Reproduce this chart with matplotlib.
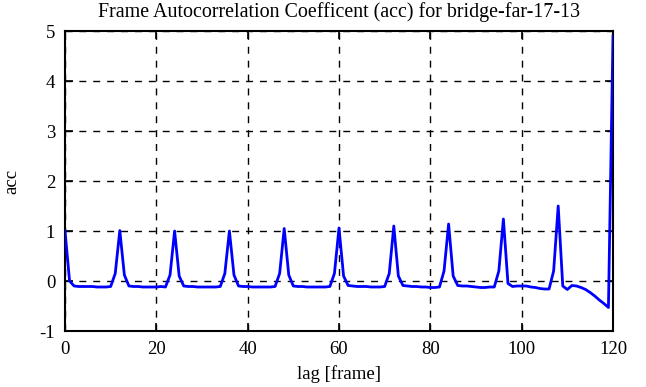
import matplotlib
matplotlib.use("Agg")
import matplotlib.pyplot as plt
import numpy as np

title = "Frame Autocorrelation Coefficent (acc) for bridge-far-17-13"
xlabel = "lag [frame]"
ylabel = "acc"
xticks = [0, 20, 40, 60, 80, 100, 120]
yticks = [-1, 0, 1, 2, 3, 4, 5]

lags = list(range(0, 121))
acc = [
    1.00, 0.00, -0.10, -0.11, -0.11, -0.11, -0.11, -0.12, -0.12, -0.12,   # 0-9
    -0.11, 0.15, 1.01, 0.12, -0.10, -0.11, -0.11, -0.12, -0.12, -0.12,   # 10-19
    -0.12, -0.11, -0.12, 0.12, 1.00, 0.10, -0.10, -0.11, -0.11, -0.12,   # 20-29
    -0.12, -0.12, -0.12, -0.12, -0.11, 0.15, 1.00, 0.12, -0.10, -0.11,   # 30-39
    -0.11, -0.12, -0.12, -0.12, -0.12, -0.12, -0.11, 0.15, 1.05, 0.12,   # 40-49
    -0.10, -0.11, -0.11, -0.12, -0.12, -0.12, -0.12, -0.12, -0.11, 0.15, # 50-59
    1.06, 0.10, -0.09, -0.10, -0.11, -0.11, -0.11, -0.12, -0.12, -0.12,  # 60-69
    -0.11, 0.15, 1.10, 0.10, -0.09, -0.10, -0.11, -0.11, -0.12, -0.12,   # 70-79
    -0.13, -0.13, -0.12, 0.20, 1.14, 0.10, -0.09, -0.10, -0.10, -0.11,   # 80-89
    -0.12, -0.13, -0.13, -0.12, -0.12, 0.20, 1.24, -0.05, -0.11, -0.10,  # 90-99
    -0.10, -0.10, -0.12, -0.13, -0.15, -0.16, -0.16, 0.20, 1.50, -0.10,  # 100-109
    -0.17, -0.09, -0.10, -0.13, -0.17, -0.23, -0.30, -0.38, -0.45, -0.53, # 110-119
    4.90,                                                                 # 120
]

plt.rcParams['font.family'] = ['Liberation Serif', 'DejaVu Serif']
plt.rcParams['axes.unicode_minus'] = False

fig = plt.figure(figsize=(6.46, 3.87), dpi=100)
ax = fig.add_axes([65/646, 1-331/387, (613-65)/646, 300/387])

ax.plot(lags, acc, color='#0000ff', linewidth=2.0, zorder=3)

ax.set_xlim(0, 120)
ax.set_ylim(-1, 5)
ax.set_xticks(xticks)
ax.set_yticks(yticks)
ax.grid(True, color='black', linestyle=(0, (5, 5)), linewidth=1.0)
ax.tick_params(direction='in', length=6, width=1.2, top=True, right=True, labelsize=13.5, pad=7)
for s in ax.spines.values():
    s.set_linewidth(1.5)

ax.set_title(title, fontsize=14.4, pad=10)
ax.set_xlabel(xlabel, fontsize=13.5, labelpad=5)
ax.set_ylabel(ylabel, fontsize=13.5, labelpad=14)

fig.savefig("out.png", dpi=100)
